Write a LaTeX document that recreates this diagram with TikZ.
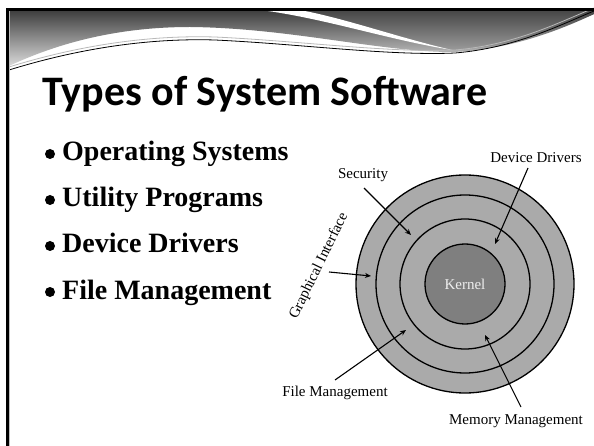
\documentclass[tikz,border=0pt]{standalone}
\usepackage{fontspec}
\setmainfont{Liberation Serif}
\newfontfamily\titlefont{Carlito}
\usetikzlibrary{arrows.meta}
\definecolor{ringgray}{HTML}{AAAAAA}
\definecolor{kernelgray}{HTML}{7F7F7F}
\definecolor{kerneltext}{HTML}{EEEEEE}
\definecolor{hdtop}{HTML}{404040}
\definecolor{hdbot}{HTML}{DADADA}
\definecolor{dktop}{HTML}{484848}
\definecolor{dkbot}{HTML}{9A9A9A}
\begin{document}
\begin{tikzpicture}[x=1pt,y=-1pt,
  ring/.style={circle,draw=black,line width=1.3pt,fill=ringgray,inner sep=0pt},
  lbl/.style={inner sep=0pt,font=\fontsize{15}{18}\selectfont},
  bul/.style={inner sep=0pt,font=\fontsize{28}{32}\selectfont\bfseries},
  arr/.style={line width=1.1pt,-{Stealth[length=6pt,width=5pt]}}]
\useasboundingbox (0,0) rectangle (594,446);
\fill[white] (0,0) rectangle (594,446);
% header
\shade[top color=hdtop,bottom color=hdbot] (9,11) -- (594,11) -- (594,14)
  .. controls (560,30) and (510,50) .. (452,52)
  .. controls (380,52) and (290,28) .. (190,27)
  .. controls (120,27) and (60,42) .. (9,66) -- cycle;
\shade[top color=dktop,bottom color=dkbot] (300,11)
  .. controls (360,22) and (400,40) .. (452,50)
  .. controls (510,48) and (560,28) .. (594,14) -- (594,11) -- cycle;
\fill[white] (268,11) .. controls (330,20) and (390,40) .. (452,50)
  .. controls (400,38) and (350,20) .. (305,11) -- cycle;
\draw[gray!55,line width=0.8pt] (9,67) .. controls (80,45) and (150,35) .. (215,37)
  .. controls (300,41) and (390,53) .. (455,50) .. controls (515,45) and (560,22) .. (594,8);
\draw[black,line width=0.8pt] (9,70) .. controls (80,48) and (150,38) .. (215,40)
  .. controls (300,44) and (390,56) .. (455,53) .. controls (515,48) and (560,25) .. (594,11);
% frame
\draw[line width=3pt] (7.5,446) -- (7.5,9.5) -- (594,9.5);
\draw[gray!50,line width=0.7pt] (9.8,446) -- (9.8,11.5);
% title
\node[inner sep=0pt,anchor=base west,font=\titlefont\bfseries\fontsize{42}{46}\selectfont] (title) at (42,106) {Types of System Software};
% bullets
\node[bul,anchor=base west] (b1) at (62,161) {Operating Systems};
\node[bul,anchor=base west] (b2) at (62,207) {Utility Programs};
\node[bul,anchor=base west] (b3) at (62,253) {Device Drivers};
\node[bul,anchor=base west] (b4) at (62,299) {File Management};
\foreach \yy in {154,200,246,292} \fill (50,\yy) circle (5);
% rings
\node[ring,minimum size=218pt] (r1) at (465,284) {};
\node[ring,minimum size=178pt] (r2) at (465,284) {};
\node[ring,minimum size=130pt] (r3) at (465,284) {};
\node[ring,fill=kernelgray,minimum size=80pt,text=kerneltext,font=\fontsize{15}{18}\selectfont] (kernel) at (465,284) {Kernel};
% labels
\node[lbl,anchor=base] (dd) at (536,163) {Device Drivers};
\node[lbl,anchor=base] (sec) at (363,179) {Security};
\node[lbl,anchor=base] (fm) at (335,396) {File Management};
\node[lbl,anchor=base] (mm) at (516,424) {Memory Management};
\node[lbl,rotate=64] (gi) at (319,266) {Graphical Interface};
% arrow ends
\coordinate (secT) at (364,188);
\coordinate (secH) at (411,235);
\coordinate (ddT) at (528,168);
\coordinate (ddH) at (495,244);
\coordinate (giT) at (329,272);
\coordinate (giH) at (371,276);
\coordinate (fmT) at (335,380);
\coordinate (fmH) at (406,330);
\coordinate (mmT) at (521,407);
\coordinate (mmH) at (485,335);
\draw[arr] (secT) -- (secH);
\draw[arr] (ddT) -- (ddH);
\draw[arr] (giT) -- (giH);
\draw[arr] (fmT) -- (fmH);
\draw[arr] (mmT) -- (mmH);
\end{tikzpicture}
\end{document}
